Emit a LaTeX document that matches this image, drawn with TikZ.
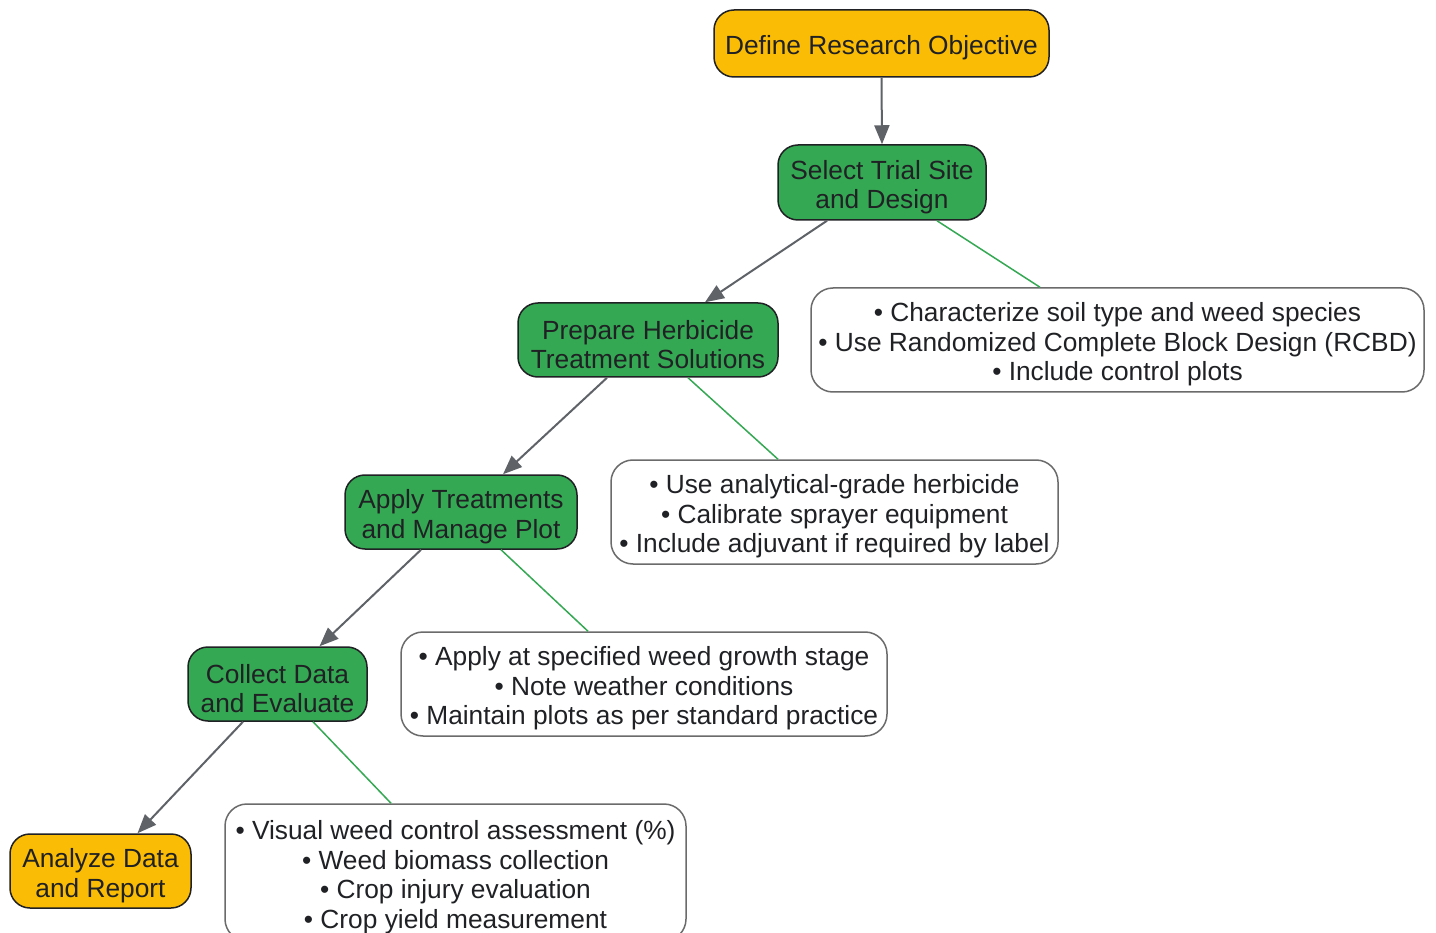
\documentclass[tikz,border=0pt]{standalone}
\usepackage{fontspec}
\setmainfont{Liberation Sans}
\usetikzlibrary{arrows.meta}
\definecolor{gold}{HTML}{FBBC05}
\definecolor{ggreen}{HTML}{34A853}
\definecolor{edgegray}{HTML}{5F6368}
\definecolor{txt}{HTML}{202124}
\definecolor{notegray}{HTML}{6B6B6B}
\newcommand{\topgap}{\rule{0pt}{28pt}}
\begin{document}
\begin{tikzpicture}[x=1pt,y=-1pt,
  base/.style={rounded corners=20pt, align=center, inner sep=0pt, text=txt,
    font=\fontsize{26.3}{29.5}\selectfont},
  stepbox/.style={base, draw=txt, line width=1.5pt, fill=ggreen},
  endbox/.style={base, draw=txt, line width=1.5pt, fill=gold},
  notebox/.style={base, draw=notegray, line width=1.5pt, fill=white, rounded corners=22pt},
  flow/.style={draw=edgegray, line width=2pt, -{Triangle[length=19pt,width=15pt]}},
  link/.style={draw=ggreen, line width=1.5pt}]
\clip (0,0) rectangle (1436,933);
\fill[white] (0,0) rectangle (1436,933);

\node[endbox, minimum width=335pt, minimum height=67pt] (obj) at (881.5,43.5) {\topgap Define Research Objective};
\node[stepbox, minimum width=208pt, minimum height=75pt] (site) at (882,182.5) {\topgap Select Trial Site\\and Design};
\node[stepbox, minimum width=260pt, minimum height=74pt] (prep) at (648,340) {\topgap Prepare Herbicide\\Treatment Solutions};
\node[notebox, minimum width=613pt, minimum height=104pt] (n1) at (1117.5,340) {\topgap • Characterize soil type and weed species\\• Use Randomized Complete Block Design (RCBD)\\• Include control plots};
\node[stepbox, minimum width=232pt, minimum height=74pt] (apply) at (461,512) {\topgap Apply Treatments\\and Manage Plot};
\node[notebox, minimum width=447pt, minimum height=104pt] (n2) at (834.5,512) {\topgap • Use analytical-grade herbicide\\• Calibrate sprayer equipment\\• Include adjuvant if required by label};
\node[stepbox, minimum width=179pt, minimum height=74pt] (coll) at (277.5,684) {\topgap Collect Data\\and Evaluate};
\node[notebox, minimum width=486pt, minimum height=104pt] (n3) at (644,684) {\topgap • Apply at specified weed growth stage\\• Note weather conditions\\• Maintain plots as per standard practice};
\node[endbox, minimum width=181pt, minimum height=74pt] (anal) at (100.5,871) {\topgap Analyze Data\\and Report};
\node[notebox, minimum width=461pt, minimum height=137pt] (n4) at (455.5,872.5) {\topgap • Visual weed control assessment (\%)\\• Weed biomass collection\\• Crop injury evaluation\\• Crop yield measurement};

\draw[flow] (obj.south) -- (site.north);
\draw[flow] ([xshift=-55pt]site.south) -- ([xshift=57pt]prep.north);
\draw[link] ([xshift=55pt]site.south) -- ([xshift=-77.5pt]n1.north);
\draw[flow] ([xshift=-41pt]prep.south) -- ([xshift=42pt]apply.north);
\draw[link] ([xshift=40pt]prep.south) -- ([xshift=-56.5pt]n2.north);
\draw[flow] ([xshift=-40pt]apply.south) -- ([xshift=42pt]coll.north);
\draw[link] ([xshift=40pt]apply.south) -- ([xshift=-56pt]n3.north);
\draw[flow] ([xshift=-34.5pt]coll.south) -- ([xshift=37pt]anal.north);
\draw[link] ([xshift=35.5pt]coll.south) -- ([xshift=-64.5pt]n4.north);
\end{tikzpicture}
\end{document}
